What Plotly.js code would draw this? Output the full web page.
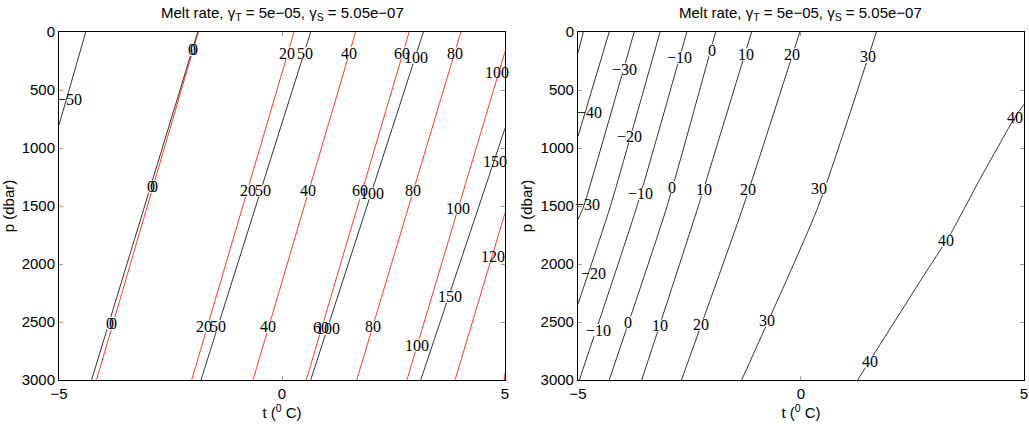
<!DOCTYPE html>
<html><head><meta charset="utf-8">
<script src="https://cdn.plot.ly/plotly-3.0.1.min.js"></script>
<style>html,body{margin:0;padding:0;background:#fff}#chart{width:1029px;height:424px}</style>
</head><body><div id="chart"></div>
<script>
// ---------- Data ----------
// Left panel, black contours: level, temperature (°C) and pressure (dbar) along each line
const leftBlackLevels = [-50, 0, 50, 100, 150];
const leftBlackT = [[-4.40, -5.0], [-1.89, -4.27], [0.643, -1.816], [3.17, 0.643], [5.0, 3.11]];
const leftBlackP = [[0, 802], [0, 3000], [0, 3000], [0, 3000], [830, 3000]];

// Left panel, red contours
const leftRedLevels = [0, 20, 40, 60, 80, 100, 120, 140];
const leftRedT = [[-1.877, -4.16], [0.269, -2.025], [1.65, -0.65], [2.85, 0.545], [4.01, 1.675], [5.0, 2.80], [5.0, 3.88], [5.0, 4.98]];
const leftRedP = [[0, 3000], [0, 3000], [0, 3000], [0, 3000], [0, 3000], [170, 3000], [1560, 3000], [2940, 3000]];

// Left panel contour labels
const leftLabelText = ['-50', '0', '0', '20', '50', '40', '60', '100', '80', '100',
  '0', '0', '20', '50', '40', '60', '100', '80', '100', '150',
  '120', '150', '0', '0', '20', '50', '40', '60', '100', '80', '100'];
const leftLabelT = [-4.76, -2.02, -1.97, 0.112, 0.516, 1.502, 2.684, 2.998, 3.879, 4.82,
  -2.94, -2.88, -0.769, -0.419, 0.590, 1.749, 2.011, 2.944, 3.953, 4.776,
  4.738, 3.767, -3.85, -3.79, -1.749, -1.428, -0.321, 0.874, 1.038, 2.034, 3.020];
const leftLabelP = [578, 155, 155, 181, 181, 181, 181, 222, 181, 353,
  1334, 1334, 1368, 1368, 1368, 1368, 1391, 1368, 1520, 1118,
  1937, 2282, 2511, 2511, 2540, 2535, 2540, 2546, 2560, 2540, 2704];

// Right panel contours
const rightLevels = [-50, -40, -30, -20, -10, 0, 10, 20, 30, 40];
const rightT = [[-4.88, -5.0], [-4.30, -5.0], [-3.74, -4.88, -5.0], [-3.16, -4.28, -5.0],
  [-2.56, -3.685, -4.97], [-1.915, -3.01, -4.30], [-1.108, -2.31, -3.57],
  [-0.026, -1.30, -2.68], [1.69, 0.38, -1.33], [5.0, 4.79, 4.01, 3.37, 2.70, 1.27]];
const rightP = [[0, 180], [0, 900], [0, 1511, 1615], [0, 1511, 2346],
  [0, 1511, 3000], [0, 1511, 3000], [0, 1511, 3000],
  [0, 1511, 3000], [0, 1511, 3000], [624, 739, 1270, 1729, 2131, 3000]];

// Right panel contour labels
const rightLabelText = ['-30', '-10', '0', '10', '20', '30', '-40', '-20', '40',
  '-10', '0', '10', '20', '30', '-30', '-20', '40', '-10', '0', '10', '20', '30', '40'];
const rightLabelT = [-3.947, -2.715, -2.004, -1.236, -0.212, 1.505, -4.731, -3.835, 4.79,
  -3.595, -2.90, -2.177, -1.198, 0.40, -4.78, -4.657, 3.26, -4.545, -3.873, -3.163, -2.244, -0.758, 1.543];
const rightLabelP = [320, 220, 157, 191, 191, 214, 693, 902, 737,
  1396, 1339, 1362, 1362, 1350, 1483, 2079, 1801, 2570, 2504, 2533, 2524, 2490, 2843];

const xTickVals = [-5, 0, 5];
const yTickVals = [0, 500, 1000, 1500, 2000, 2500, 3000];
const titleText = 'Melt rate, γ<sub>T</sub> = 5e−05, γ<sub>S</sub> = 5.05e−07';

// ---------- Build ----------
const traces = [];
function addLines(levels, T, P, xa, ya, color) {
  levels.forEach((lev, i) => {
    traces.push({
      type: 'scatter', mode: 'lines', x: T[i], y: P[i], xaxis: xa, yaxis: ya,
      line: {color: color, width: 0.8, shape: 'spline', smoothing: 0.5},
      hoverinfo: 'skip', showlegend: false, name: String(lev)
    });
  });
}
addLines(leftBlackLevels, leftBlackT, leftBlackP, 'x', 'y', '#000000');
addLines(leftRedLevels, leftRedT, leftRedP, 'x', 'y', '#ff0000');
addLines(rightLevels, rightT, rightP, 'x2', 'y2', '#000000');

const labelFont = {family: 'Liberation Serif, Times New Roman, serif', size: 16, color: '#000'};
const annotations = [];
const shapes = [];
function addLabels(texts, T, P, xr, yr) {
  // white gaps in the contour lines behind the labels (like clabel)
  texts.forEach((s, i) => {
    const nearEdge = Math.abs(Math.abs(T[i]) - 5) < 0.35;
    if (!nearEdge) {
      const w = s.length * 8 + 1;
      shapes.push({
        type: 'rect', xref: xr, yref: yr, xsizemode: 'pixel', ysizemode: 'pixel',
        xanchor: T[i], yanchor: P[i], x0: -w / 2, x1: w / 2, y0: -6, y1: 6,
        fillcolor: '#ffffff', line: {width: 0}, layer: 'above'
      });
    }
  });
  texts.forEach((s, i) => {
    annotations.push({
      xref: xr, yref: yr, x: T[i], y: P[i], text: s.replace('-', '−'),
      showarrow: false, font: labelFont, borderpad: 0
    });
  });
}
addLabels(leftLabelText, leftLabelT, leftLabelP, 'x', 'y');
addLabels(rightLabelText, rightLabelT, rightLabelP, 'x2', 'y2');

const titleFont = {family: 'Liberation Sans, Arial, sans-serif', size: 15, color: '#000'};
['x', 'x2'].forEach((xa, k) => {
  annotations.push({
    xref: xa + ' domain', yref: (k === 0 ? 'y' : 'y2') + ' domain', x: 0.5, y: 1,
    xanchor: 'center', yanchor: 'bottom', yshift: 7, text: titleText,
    showarrow: false, font: titleFont
  });
});

const tickFont = {family: 'Liberation Sans, Arial, sans-serif', size: 15, color: '#000'};
const axTitleFont = {family: 'Liberation Sans, Arial, sans-serif', size: 15, color: '#000'};
const axBase = {
  showline: true, linecolor: '#000', linewidth: 1, mirror: 'ticks',
  ticks: 'inside', ticklen: 4, tickcolor: '#999', tickwidth: 1,
  showgrid: false, zeroline: false, tickfont: tickFont, fixedrange: true
};
const layout = {
  width: 1029, height: 424,
  margin: {l: 59, r: 5, t: 32, b: 44},
  paper_bgcolor: '#fff', plot_bgcolor: '#fff', showlegend: false,
  font: {family: 'Liberation Sans, Arial, sans-serif', color: '#000'},
  xaxis: Object.assign({}, axBase, {domain: [0, 0.4622], range: [-5, 5], tickvals: xTickVals, anchor: 'y',
    title: {text: 't (<sup>0</sup> C)', font: axTitleFont, standoff: 4}}),
  yaxis: Object.assign({}, axBase, {domain: [0, 1], range: [3000, 0], tickvals: yTickVals, anchor: 'x',
    title: {text: 'p (dbar)', font: axTitleFont, standoff: 4}}),
  xaxis2: Object.assign({}, axBase, {domain: [0.5378, 1], range: [-5, 5], tickvals: xTickVals, anchor: 'y2',
    title: {text: 't (<sup>0</sup> C)', font: axTitleFont, standoff: 4}}),
  yaxis2: Object.assign({}, axBase, {domain: [0, 1], range: [3000, 0], tickvals: yTickVals, anchor: 'x2',
    title: {text: 'p (dbar)', font: axTitleFont, standoff: 4}}),
  shapes: shapes,
  annotations: annotations
};
Plotly.newPlot('chart', traces, layout, {staticPlot: true, displayModeBar: false});
</script>
</body></html>
